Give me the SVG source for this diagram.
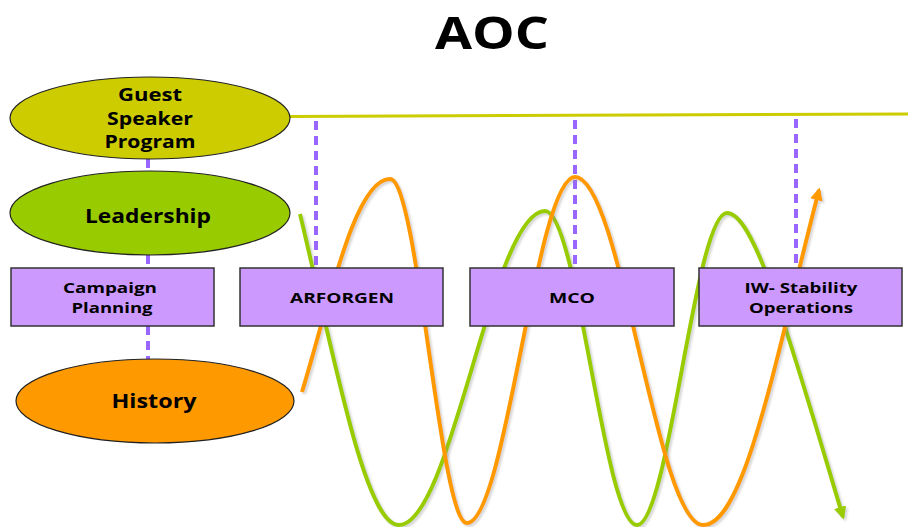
<svg xmlns="http://www.w3.org/2000/svg" width="908" height="527" viewBox="0 0 908 527">
  <style>
    text { font-family: "Open Sans", "Liberation Sans", sans-serif; font-weight: bold; fill: #000; text-anchor: middle; }
    .title { font-size: 45px; }
    .oval-label { font-size: 20px; }
    .small-oval-label { font-size: 17px; }
    .box-label { font-size: 15px; }
    .box { fill: #cc99ff; stroke: #333; stroke-width: 1.5; }
    .oval { stroke: #222; stroke-width: 1.2; }
    .dash { stroke: #9966ff; stroke-width: 4; stroke-dasharray: 9 6; fill: none; }
    .wave { fill: none; stroke-width: 4; stroke-linecap: butt; filter: url(#shadow); }
  </style>
  <defs>
    <filter id="shadow" x="-10%" y="-10%" width="120%" height="120%">
      <feDropShadow dx="2" dy="2" stdDeviation="1" flood-color="#888" flood-opacity="0.35"/>
    </filter>
    <marker id="arrow-green" viewBox="0 0 10 10" refX="8" refY="5" markerWidth="3.2" markerHeight="3.2" orient="auto">
      <path d="M0,0 L10,5 L0,10 z" fill="#99cc00"/>
    </marker>
    <marker id="arrow-orange" viewBox="0 0 10 10" refX="8" refY="5" markerWidth="3.2" markerHeight="3.2" orient="auto">
      <path d="M0,0 L10,5 L0,10 z" fill="#ff9900"/>
    </marker>
  </defs>

  <rect width="908" height="527" fill="#fff"/>

  <text class="title" x="492" y="49" textLength="114" lengthAdjust="spacingAndGlyphs">AOC</text>

  <!-- connectors: timeline, dashed links and the two waves -->
  <g id="connectors">
    <line x1="290" y1="116.5" x2="908" y2="114" stroke="#cccc00" stroke-width="3"/>
    <line class="dash" x1="148" y1="159" x2="148" y2="172"/>
    <line class="dash" x1="148" y1="255" x2="148" y2="268"/>
    <line class="dash" x1="148" y1="326" x2="148" y2="359"/>
    <line class="dash" x1="316" y1="121" x2="316" y2="268"/>
    <line class="dash" x1="575" y1="120" x2="575" y2="268"/>
    <line class="dash" x1="796" y1="119" x2="796" y2="268"/>
    <path class="wave" stroke="#99cc00" marker-end="url(#arrow-green)"
          d="M300,214 C335,360 365,525 399,525 C452,525 492,211 545,211 C578,211 604,525 637,525 C669,525 695,213 727,213 C755,213 790,340 843,517"/>
    <path class="wave" stroke="#ff9900" marker-end="url(#arrow-orange)"
          d="M302,392 C330,300 355,179 390,179 C418,179 440,523 467,523 C506,523 536,177 575,177 C621,177 657,525 703,525 C745,525 775,360 819,190"/>
  </g>

  <g id="guest-speaker">
    <ellipse class="oval" cx="150" cy="118" rx="140" ry="41" fill="#cccc00"/>
    <text class="small-oval-label" x="150" y="101" textLength="64" lengthAdjust="spacingAndGlyphs">Guest</text>
    <text class="small-oval-label" x="150" y="125" textLength="86" lengthAdjust="spacingAndGlyphs">Speaker</text>
    <text class="small-oval-label" x="150" y="148" textLength="91" lengthAdjust="spacingAndGlyphs">Program</text>
  </g>

  <g id="leadership">
    <ellipse class="oval" cx="150" cy="213" rx="140" ry="42" fill="#99cc00"/>
    <text class="oval-label" x="148" y="223" textLength="126" lengthAdjust="spacingAndGlyphs">Leadership</text>
  </g>

  <g id="campaign-planning">
    <rect class="box" x="11" y="268" width="203" height="58"/>
    <text class="box-label" x="110" y="293" textLength="94" lengthAdjust="spacingAndGlyphs">Campaign</text>
    <text class="box-label" x="112" y="313" textLength="81" lengthAdjust="spacingAndGlyphs">Planning</text>
  </g>

  <g id="arforgen">
    <rect class="box" x="240" y="268" width="203" height="58"/>
    <text class="box-label" x="342" y="303" textLength="104" lengthAdjust="spacingAndGlyphs">ARFORGEN</text>
  </g>

  <g id="mco">
    <rect class="box" x="470" y="268" width="204" height="58"/>
    <text class="box-label" x="572" y="303" textLength="46" lengthAdjust="spacingAndGlyphs">MCO</text>
  </g>

  <g id="iw-stability">
    <rect class="box" x="699" y="268" width="203" height="58"/>
    <text class="box-label" x="801" y="293" textLength="113" lengthAdjust="spacingAndGlyphs">IW- Stability</text>
    <text class="box-label" x="801" y="313" textLength="104" lengthAdjust="spacingAndGlyphs">Operations</text>
  </g>

  <g id="history">
    <ellipse class="oval" cx="155" cy="401" rx="139" ry="42" fill="#ff9900"/>
    <text class="oval-label" x="154" y="408" textLength="85" lengthAdjust="spacingAndGlyphs">History</text>
  </g>
</svg>
